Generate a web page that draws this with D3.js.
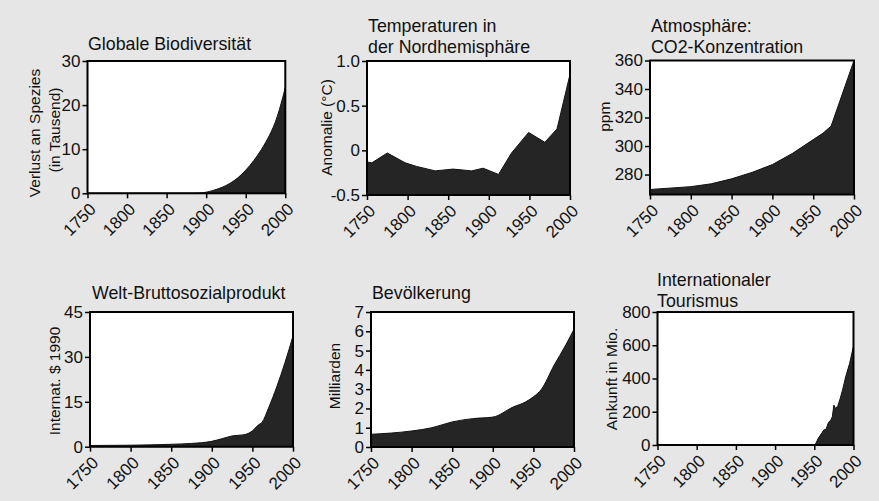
<!DOCTYPE html>
<html><head><meta charset="utf-8">
<script src="https://cdn.jsdelivr.net/npm/d3@7"></script>
<style>
html,body{margin:0;padding:0;background:#e6e6e6;}
svg{display:block;}
text{font-family:"Liberation Sans",Arial,Helvetica,sans-serif;fill:#111;}
</style></head>
<body>
<svg id="chart" width="879" height="501"></svg>
<script>
// ---- data ----
const xTickYears = [1750, 1800, 1850, 1900, 1950, 2000];

const biodivYears  = [1750, 1850, 1880, 1890, 1900, 1910, 1920, 1930, 1940, 1950, 1960, 1970, 1980, 1990, 2000];
const biodivValues = [0, 0, 0, 0, 0.2, 0.7, 1.3, 2.2, 3.4, 5.2, 7.3, 9.9, 13.0, 17.0, 24];
const biodivTicks  = [0, 10, 20, 30];

const tempYears  = [1750, 1756, 1775, 1797, 1811, 1834, 1856, 1879, 1893, 1912, 1928, 1949, 1969, 1984, 2000];
const tempValues = [-0.13, -0.14, -0.03, -0.14, -0.18, -0.23, -0.21, -0.23, -0.2, -0.27, -0.03, 0.2, 0.09, 0.24, 0.85];
const tempTicks  = [-0.5, 0, 0.5, 1.0];
const tempTickLabels = ["-0.5", "0", "0.5", "1.0"];

const co2Years  = [1750, 1800, 1825, 1850, 1875, 1900, 1925, 1950, 1962, 1972, 2000];
const co2Values = [269.5, 271.5, 273.5, 277, 281.5, 287, 295, 304.5, 309, 314, 360];
const co2Ticks  = [280, 300, 320, 340, 360];

const gdpYears  = [1750, 1800, 1850, 1875, 1900, 1913, 1925, 1940, 1950, 1957, 1962, 1970, 1980, 1990, 2000];
const gdpValues = [0.4, 0.5, 0.8, 1.1, 1.8, 2.7, 3.6, 4.0, 5.3, 7.2, 8.2, 13, 20, 28, 37];
const gdpTicks  = [0, 15, 30, 45];

const popYears  = [1750, 1800, 1825, 1850, 1875, 1900, 1925, 1940, 1950, 1960, 1975, 1990, 2000];
const popValues = [0.66, 0.83, 1.0, 1.3, 1.47, 1.55, 2.07, 2.33, 2.6, 3.0, 4.2, 5.3, 6.1];
const popTicks  = [0, 1, 2, 3, 4, 5, 6, 7];

const tourYears  = [1750, 1950, 1952, 1955, 1960, 1962, 1965, 1968, 1971, 1973, 1975, 1977, 1980, 1983, 1986, 1990, 1995, 2000];
const tourValues = [0, 0, 10, 40, 75, 90, 95, 135, 150, 170, 240, 220, 235, 280, 330, 410, 490, 595];
const tourTicks  = [0, 200, 400, 600, 800];

// ---- layout ----
const panels = [
  {title:["Globale Biodiversität"], tx:88, ty:50,
   rect:{l:87.5, r:285.3, t:61, b:193.3}, domain:[0,30], ticks:biodivTicks,
   ylab:[{t:"Verlust an Spezies", x:35, y:133},{t:"(in Tausend)", x:55, y:130}],
   years:biodivYears, values:biodivValues, curve:d3.curveBasis},
  {title:["Temperaturen in","der Nordhemisphäre"], tx:368, ty:31.7,
   rect:{l:367, r:570, t:61, b:195}, domain:[-0.5,1.0], ticks:tempTicks, tickLabels:tempTickLabels,
   ylab:[{t:"Anomalie (°C)", x:327, y:127.5}],
   years:tempYears, values:tempValues, curve:d3.curveLinear},
  {title:["Atmosphäre:","CO2-Konzentration"], tx:651, ty:31.7,
   rect:{l:650, r:854, t:60.5, b:194.5}, domain:[266,360], ticks:co2Ticks,
   ylab:[{t:"ppm", x:605, y:116.7}],
   years:co2Years, values:co2Values, curve:d3.curveLinear},
  {title:["Welt-Bruttosozialprodukt"], tx:92, ty:299.3,
   rect:{l:90, r:293, t:312, b:446.7}, domain:[0,45], ticks:gdpTicks,
   ylab:[{t:"Internat. $ 1990", x:55, y:381}],
   years:gdpYears, values:gdpValues, curve:d3.curveMonotoneX},
  {title:["Bevölkerung"], tx:372, ty:299,
   rect:{l:371, r:574, t:312, b:447}, domain:[0,7], ticks:popTicks,
   ylab:[{t:"Milliarden", x:335, y:376}],
   years:popYears, values:popValues, curve:d3.curveMonotoneX},
  {title:["Internationaler","Tourismus"], tx:657, ty:285.7,
   rect:{l:657.5, r:853.5, t:312, b:445}, domain:[0,800], ticks:tourTicks,
   ylab:[{t:"Ankunft in Mio.", x:612, y:379}],
   years:tourYears, values:tourValues, curve:d3.curveLinear}
];

const svg = d3.select("#chart");
svg.append("rect").attr("width",879).attr("height",501).attr("fill","#e6e6e6");

panels.forEach(p => {
  const g = svg.append("g");
  const R = p.rect;
  const x = d3.scaleLinear().domain([1750,2000]).range([R.l, R.r]);
  const y = d3.scaleLinear().domain(p.domain).range([R.b, R.t]);
  const data = p.years.map((yr,i) => ({yr, v:p.values[i]}));

  g.append("rect").attr("x",R.l).attr("y",R.t).attr("width",R.r-R.l).attr("height",R.b-R.t)
    .attr("fill","#ffffff");

  const area = d3.area().x(d=>x(d.yr)).y0(R.b).y1(d=>y(d.v)).curve(p.curve);
  g.append("path").datum(data).attr("d",area).attr("fill","#252525")
    .attr("stroke","#111").attr("stroke-width",1);

  g.append("rect").attr("x",R.l).attr("y",R.t).attr("width",R.r-R.l).attr("height",R.b-R.t)
    .attr("fill","none").attr("stroke","#000").attr("stroke-width",2);

  const yAxis = d3.axisLeft(y).tickValues(p.ticks).tickSize(5).tickPadding(2)
    .tickFormat((d,i) => p.tickLabels ? p.tickLabels[i] : d3.format("d")(d));
  const ya = g.append("g").attr("transform",`translate(${R.l},0)`).call(yAxis);
  ya.select(".domain").remove();
  ya.selectAll("line").attr("stroke","#000").attr("stroke-width",1.5);
  ya.selectAll("text").attr("font-size",17).attr("fill","#111")
    .style("font-family","'Liberation Sans',Arial,sans-serif");

  const xAxis = d3.axisBottom(x).tickValues(xTickYears).tickSize(5).tickFormat(d3.format("d"));
  const xa = g.append("g").attr("transform",`translate(0,${R.b})`).call(xAxis);
  xa.select(".domain").remove();
  xa.selectAll("line").attr("stroke","#000").attr("stroke-width",1.5);
  xa.selectAll("text")
    .attr("text-anchor","end")
    .attr("y",0).attr("dy",0)
    .attr("transform","translate(9,17) rotate(-45)")
    .attr("font-size",17).attr("fill","#111")
    .style("font-family","'Liberation Sans',Arial,sans-serif");

  p.title.forEach((t,i) => {
    g.append("text").attr("x",p.tx).attr("y",p.ty + i*21.6)
      .attr("font-size",17.8).text(t);
  });

  p.ylab.forEach(l => {
    g.append("text").attr("transform",`translate(${l.x},${l.y}) rotate(-90)`)
      .attr("text-anchor","middle").attr("dy","0.35em")
      .attr("font-size",15.5).text(l.t);
  });
});
</script>
</body></html>
